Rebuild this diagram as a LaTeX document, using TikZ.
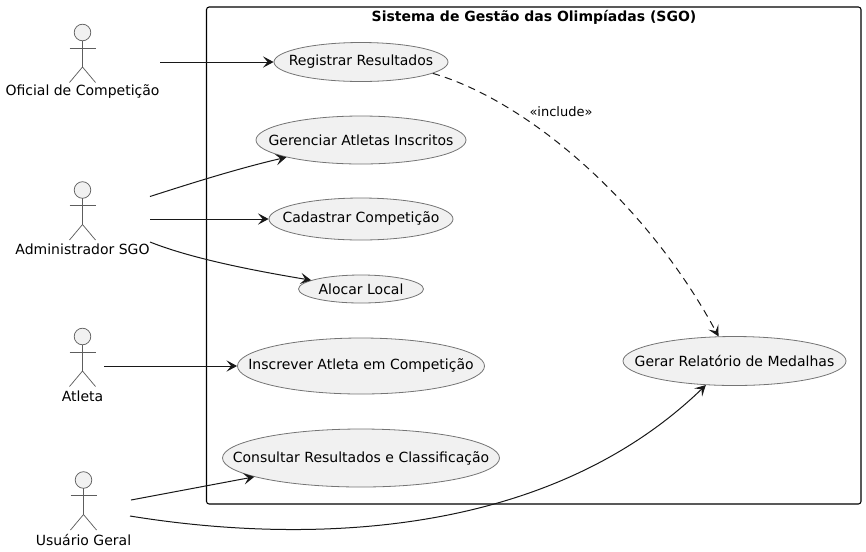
\documentclass[tikz,border=0pt]{standalone}
\usepackage{fontspec}
\setmainfont{DejaVu Sans}
\usetikzlibrary{arrows.meta,shapes.geometric}

\def\px{0.75pt} % one pixel of the picture
\newcommand{\uctext}[1]{\makebox[0pt]{#1}}
% Stick figure, #1 = x, #2 = centre of the head
\newcommand{\drawactor}[2]{%
  \draw[actorline, fill=ucfill] (#1,#2) circle (8.3);
  \draw[actorline] (#1,#2+8.3) -- (#1,#2+34.5);
  \draw[actorline] (#1-13,#2+15.5) -- (#1+13,#2+15.5);
  \draw[actorline] (#1-13,#2+50) -- (#1,#2+34.5) -- (#1+13,#2+50);
}

\definecolor{ucfill}{HTML}{F1F1F1}
\definecolor{ucline}{HTML}{181818}

\tikzset{
  actorline/.style={draw=ucline!70, line width=0.55pt},
  ucase/.style={ellipse, draw=ucline!60, line width=0.6pt, fill=ucfill, inner sep=0pt, font=\fontsize{10.5}{12}\selectfont},
  actorname/.style={inner sep=0pt, font=\fontsize{10.5}{12}\selectfont},
  link/.style={draw=ucline, line width=0.75pt, -{Stealth[length=8pt, width=8.5pt, inset=3.5pt]}},
}

\begin{document}
\begin{tikzpicture}[x=\px, y=-\px]
\useasboundingbox (0,0) rectangle (866,551);

% System boundary
\draw[black, line width=0.8pt, rounded corners=2pt] (206.5,7) rectangle (861,504);
\node[anchor=center, inner sep=0pt, font=\fontsize{10.5}{12}\selectfont\bfseries] (sgo) at (534,17) {Sistema de Gestão das Olimpíadas (SGO)};

% Actors
\drawactor{82.5}{32.5}
\node[actorname] (oficial) at (82.5,92) {Oficial de Competição};
\drawactor{82.5}{190}
\node[actorname] (admin) at (82.5,249) {Administrador SGO};
\drawactor{82.5}{336.5}
\node[actorname] (atleta) at (82.5,396) {Atleta};
\drawactor{83.5}{480}
\node[actorname] (usuario) at (83.5,540) {Usuário Geral};

% Use cases
\node[ucase, minimum width=174*\px, minimum height=39*\px] (registrar) at (361,62) {\uctext{Registrar Resultados}};
\node[ucase, minimum width=210*\px, minimum height=48*\px] (gerenciar) at (361,140) {\uctext{Gerenciar Atletas Inscritos}};
\node[ucase, minimum width=184*\px, minimum height=42*\px] (cadastrar) at (361,219) {\uctext{Cadastrar Competição}};
\node[ucase, minimum width=125*\px, minimum height=28*\px] (alocar) at (361,289) {\uctext{Alocar Local}};
\node[ucase, minimum width=247*\px, minimum height=56*\px] (inscrever) at (361,366) {\uctext{Inscrever Atleta em Competição}};
\node[ucase, minimum width=277*\px, minimum height=58*\px] (consultar) at (361,458) {\uctext{Consultar Resultados e Classificação}};
\node[ucase, minimum width=223*\px, minimum height=49*\px] (relatorio) at (734.5,361) {\uctext{Gerar Relatório de Medalhas}};

% Free ends beside the actors
\coordinate (oficialout) at (160,62);
\coordinate (adminA) at (150,196.5);
\coordinate (adminB) at (150,219);
\coordinate (adminC) at (150,242);
\coordinate (atletaout) at (104,366);
\coordinate (usuarioA) at (131,500);
\coordinate (usuarioB) at (130,516);

% Connectors
\draw[link] (oficialout) -- (registrar.west);
\draw[link] (adminA) .. controls (195,182) and (240,168) .. (gerenciar.193);
\draw[link] (adminB) -- (cadastrar.west);
\draw[link] (adminC) .. controls (190,258) and (250,270) .. (alocar.170);
\draw[link] (atletaout) -- (inscrever.west);
\draw[link] (usuarioA) -- (consultar.190);
\draw[link] (usuarioB) .. controls (290,542) and (540,545) .. (relatorio.220);
\draw[link, dashed, dash pattern=on 5.5pt off 4pt] (registrar.-9) .. controls (525,100) and (645,200) .. (relatorio.123);
\node[inner sep=0pt, font=\fontsize{9.75}{12}\selectfont] (include) at (561,112) {«include»};
\end{tikzpicture}
\end{document}
